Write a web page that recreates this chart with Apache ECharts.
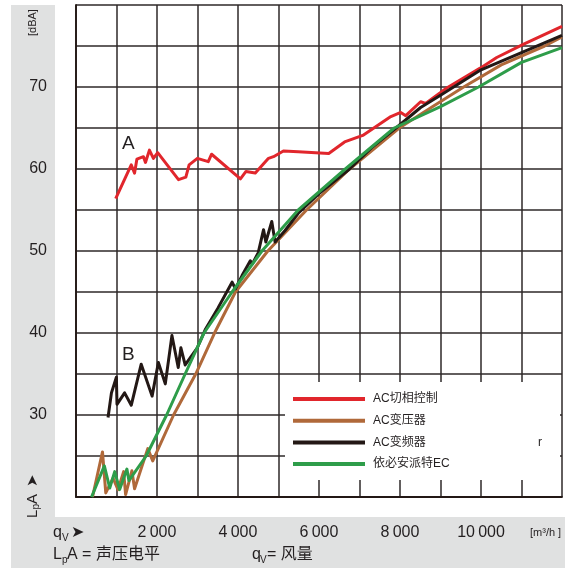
<!DOCTYPE html>
<html>
<head>
<meta charset="utf-8">
<script src="https://cdn.jsdelivr.net/npm/echarts@6/dist/echarts.min.js"></script>
<style>
html,body{margin:0;padding:0;background:#fff;}
#c{width:565px;height:568px;}
</style>
</head>
<body>
<div id="c"></div>
<script>
// ---- data (x: airflow m3/h, y: LpA dBA) ----
var seriesNames = ['AC切相控制', 'AC变压器', 'AC变频器', '依必安派特EC'];
var seriesColors = ['#e1262c', '#b0693a', '#231815', '#2e9d4a'];

var redData = [[980,56.4],[1364,60.5],[1446,59.5],[1503,61.2],[1666,61.5],[1715,60.8],[1813,62.3],[1911,61.3],[2017,62.0],[2531,58.7],[2712,59.0],[2793,60.5],[2997,61.3],[3266,60.9],[3348,61.8],[4060,58.8],[4197,59.7],[4427,59.5],[4753,61.3],[4876,61.5],[5121,62.2],[5488,62.1],[6240,61.9],[6632,63.3],[7080,64.1],[7774,66.4],[8019,66.9],[8142,66.5],[8509,68.2],[8632,68.0],[9163,69.9],[9980,72.3],[10388,73.6],[11042,75.2],[12000,77.4]];

var brownData = [[408,20],[654,25.5],[735,20.5],[915,22.3],[1037,20.9],[1176,23.1],[1225,20.3],[1380,23.2],[1446,21.0],[1772,25.9],[1895,24.4],[2409,30],[2956,35],[3420,40],[3937,45],[4736,50],[5692,55],[6754,60],[7980,65],[8800,67.6],[9572,70],[10500,72.7],[11572,75],[12000,76.1]];

var blackData = [[791,29.7],[875,32.7],[997,34.6],[1012,31.3],[1200,32.7],[1365,31.2],[1610,36.2],[1879,32.3],[2034,36.4],[2205,33.8],[2369,39.7],[2524,35.8],[2590,38.2],[2695,36.1],[2996,38.2],[3200,40.5],[3500,43.0],[3854,46.2],[3937,45.4],[4100,47.0],[4304,48.8],[4350,48.4],[4500,49.8],[4631,52.6],[4687,51.1],[4834,53.6],[4916,51.1],[5162,52.5],[5488,54.6],[6000,57.0],[6754,60.0],[7300,62.6],[7900,65.0],[8509,67.5],[9000,69.0],[10000,72.1],[11000,74.2],[12000,76.3]];

var greenData = [[384,20],[700,23.8],[833,21.1],[956,23.1],[1078,20.9],[1257,23.4],[1306,22.0],[1732,25],[2237,30],[2695,35],[3160,40],[3854,45],[4590,50],[5488,55],[6650,60],[7857,65],[9000,67.6],[9940,70],[11000,73.0],[12000,74.8]];

var xLabelValues = [2000, 4000, 6000, 8000, 10000];
var yLabelValues = [30, 40, 50, 60, 70];

var allData = [redData, brownData, blackData, greenData];

var NARROW = "'Liberation Sans Narrow','Liberation Sans',Arial,sans-serif";
var CJK = "'Liberation Sans Narrow','Liberation Sans','Noto Sans CJK SC',sans-serif";
var TXT = '#231f20';
var GRID = '#2e2828';

function fmtThousands(v){
  var s = String(v);
  return s.slice(0, s.length-3) + '\u2009' + s.slice(s.length-3);
}

var chart = echarts.init(document.getElementById('c'), null, {renderer:'canvas'});

var series = seriesNames.map(function(n, i){
  return {
    name: n, type: 'line', data: allData[i], showSymbol: false, symbol: 'none',
    smooth: false, z: 2 + (i === 3 ? 1 : 0),
    lineStyle: {color: seriesColors[i], width: 3, join: 'round'},
    itemStyle: {color: seriesColors[i]},
    emphasis: {disabled: true}
  };
});

function t(x, y, text, size, extra){
  var st = {text: text, x: 0, y: 0, fill: TXT, font: size + 'px ' + CJK,
            align: 'left', verticalAlign: 'middle', textAlign: 'left', textVerticalAlign: 'middle'};
  if (extra) for (var k in extra) st[k] = extra[k];
  return {type: 'text', x: x, y: y, z: 6, style: st};
}

var option = {
  animation: false,
  backgroundColor: '#ffffff',
  grid: {left: 76, top: 5, right: 0, bottom: 71, containLabel: false},
  xAxis: {
    type: 'value', min: 0, max: 12000, interval: 1000,
    axisLine: {show: true, lineStyle: {color: '#231815', width: 1.8}},
    axisTick: {show: false},
    splitLine: {show: true, lineStyle: {color: GRID, width: 1.5}},
    axisLabel: {
      margin: 28, color: TXT, fontSize: 16, fontFamily: NARROW,
      formatter: function(v){ return xLabelValues.indexOf(v) >= 0 ? fmtThousands(v) : ''; }
    }
  },
  yAxis: {
    type: 'value', min: 20, max: 80, interval: 5,
    axisLine: {show: true, lineStyle: {color: '#231815', width: 1.8}},
    axisTick: {show: false},
    splitLine: {show: true, lineStyle: {color: GRID, width: 1.5}},
    axisLabel: {
      margin: 29, color: TXT, fontSize: 16, fontFamily: NARROW,
      formatter: function(v){ return yLabelValues.indexOf(v) >= 0 ? String(v) : ''; }
    }
  },
  legend: {
    orient: 'vertical', left: 293, top: 392, padding: 0,
    itemWidth: 72, itemHeight: 4, itemGap: 7.7, icon: 'rect',
    selectedMode: false,
    data: seriesNames,
    textStyle: {color: TXT, fontSize: 12, lineHeight: 14, fontFamily: CJK, padding: [0,0,0,3]},
    z: 5
  },
  graphic: [
    {type: 'rect', z: -1, shape: {x: 11, y: 5, width: 44, height: 563}, style: {fill: '#e0e1e1'}},
    {type: 'rect', z: -1, shape: {x: 11, y: 517, width: 554, height: 51}, style: {fill: '#e0e1e1'}},
    {type: 'rect', z: 3, shape: {x: 285, y: 382, width: 275, height: 98}, style: {fill: '#ffffff'}},
    // rotated y-axis unit
    {type: 'text', x: 33, y: 36, rotation: Math.PI/2, z: 6,
     style: {text: '[dBA]', fill: TXT, font: '11px ' + NARROW, align: 'left', verticalAlign: 'middle', textAlign: 'left', textVerticalAlign: 'middle'}},
    // rotated LpA arrow
    {type: 'group', x: 33, y: 518, rotation: Math.PI/2, z: 6, children: [
      t(0, 0, 'L', 15),
      t(8.5, 3.5, 'p', 10),
      t(14, 0, 'A', 15),
      t(31, 0, '\u27A4', 15, {font: "15px 'DejaVu Sans',sans-serif"})
    ]},
    // bottom left qV arrow
    t(53, 533, 'q', 16),
    t(62, 538, 'V', 10),
    t(71, 533, '\u27A4', 16, {font: "16px 'DejaVu Sans',sans-serif"}),
    t(530, 533, '[m\u00B3/h ]', 11),
    // bottom legend text
    t(53, 555, 'L', 16),
    t(62, 560, 'p', 10),
    t(67, 555, 'A = 声压电平', 16),
    t(252, 555, 'q', 16),
    t(260, 560, 'V', 10),
    t(267, 555, '= 风量', 16),
    // curve labels
    t(122, 144, 'A', 19, {font: "19px 'Liberation Sans',Arial,sans-serif"}),
    t(122, 355, 'B', 19, {font: "19px 'Liberation Sans',Arial,sans-serif"}),
    t(538, 443, 'r', 12)
  ],
  series: series
};
chart.setOption(option);
</script>
</body>
</html>
